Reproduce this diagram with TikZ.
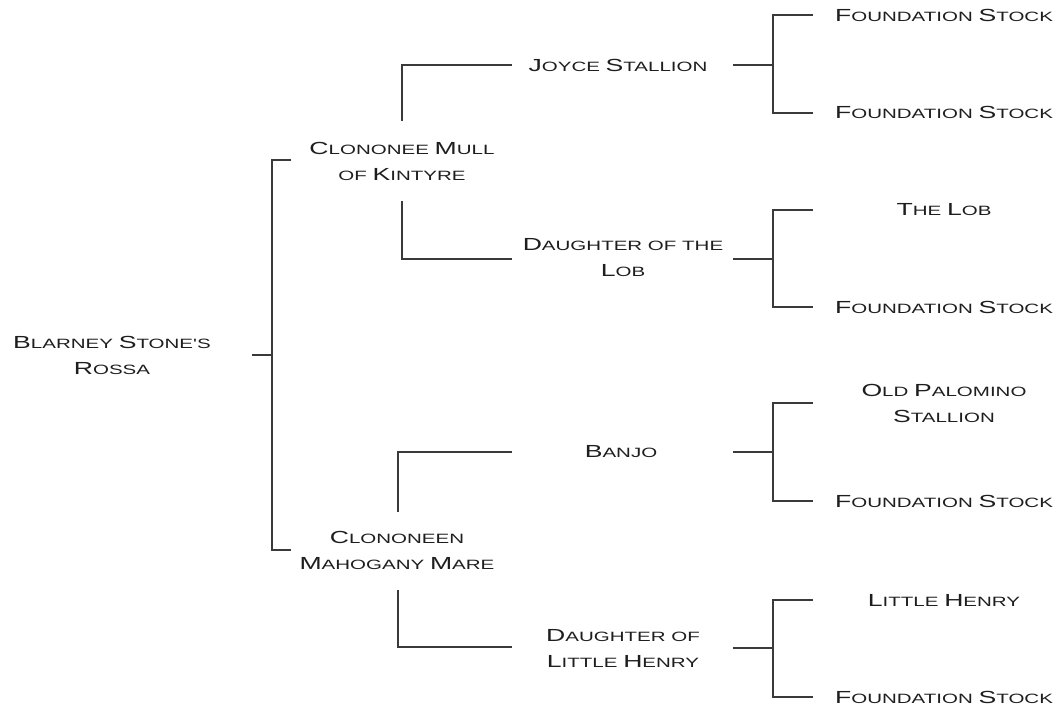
\documentclass[tikz,border=0pt]{standalone}
\usepackage{fontspec}
\newfontfamily\cpfont[FakeStretch=1.52]{Liberation Sans}
\newcommand\BC[1]{{\fontsize{17.5}{26}\selectfont #1}}
\definecolor{txt}{HTML}{1E1E1E}
\definecolor{lin}{HTML}{3A3A3A}
\tikzset{
  lab/.style={font=\cpfont\fontsize{13.5}{26}\selectfont, align=center, text=txt, inner sep=0pt},
  ln/.style={draw=lin, line width=1.2pt}
}
\begin{document}
\begin{tikzpicture}[x=1pt,y=-1pt]
\useasboundingbox (0,0) rectangle (1061,709);
% nodes
\node[lab] (rossa) at (112,355) {\BC{B}LARNEY \BC{S}TONE'S\\\BC{R}OSSA};
\node[lab] (mull) at (402,161) {\BC{C}LONONEE \BC{M}ULL\\OF \BC{K}INTYRE};
\node[lab] (mare) at (397,550) {\BC{C}LONONEEN\\\BC{M}AHOGANY \BC{M}ARE};
\node[lab] (joyce) at (618,65) {\BC{J}OYCE \BC{S}TALLION};
\node[lab] (dlob) at (623,258) {\BC{D}AUGHTER OF THE\\\BC{L}OB};
\node[lab] (banjo) at (621,452) {\BC{B}ANJO};
\node[lab] (dhenry) at (623,648) {\BC{D}AUGHTER OF\\\BC{L}ITTLE \BC{H}ENRY};
\node[lab] (f1) at (944,15) {\BC{F}OUNDATION \BC{S}TOCK};
\node[lab] (f2) at (944,112) {\BC{F}OUNDATION \BC{S}TOCK};
\node[lab] (lob) at (944,210) {\BC{T}HE \BC{L}OB};
\node[lab] (f3) at (944,307) {\BC{F}OUNDATION \BC{S}TOCK};
\node[lab] (palo) at (944,403) {\BC{O}LD \BC{P}ALOMINO\\\BC{S}TALLION};
\node[lab] (f4) at (944,501) {\BC{F}OUNDATION \BC{S}TOCK};
\node[lab] (henry) at (944,600) {\BC{L}ITTLE \BC{H}ENRY};
\node[lab] (f5) at (944,697) {\BC{F}OUNDATION \BC{S}TOCK};
% junction coordinates
\coordinate (r0) at (252,355);
\coordinate (rj) at (272,355);
\coordinate (rt) at (291,160);
\coordinate (rb) at (291,550);
\coordinate (mu) at (402,121);
\coordinate (md) at (402,201);
\coordinate (ju) at (512,65);
\coordinate (dl) at (512,259);
\coordinate (mau) at (398,512);
\coordinate (mad) at (398,590);
\coordinate (bj) at (512,452);
\coordinate (dh) at (512,647);
% right groups
\coordinate (g1s) at (733,65);  \coordinate (g1j) at (773,65);
\coordinate (g1t) at (813,15);  \coordinate (g1b) at (813,113);
\coordinate (g2s) at (733,259); \coordinate (g2j) at (773,259);
\coordinate (g2t) at (813,210); \coordinate (g2b) at (813,307);
\coordinate (g3s) at (733,452); \coordinate (g3j) at (773,452);
\coordinate (g3t) at (813,403); \coordinate (g3b) at (813,501);
\coordinate (g4s) at (733,648); \coordinate (g4j) at (773,648);
\coordinate (g4t) at (813,600); \coordinate (g4b) at (813,697);
% connectors
\draw[ln] (r0) -- (rj);
\draw[ln] (rt) -| (rj) |- (rb);
\draw[ln] (mu) |- (ju);
\draw[ln] (md) |- (dl);
\draw[ln] (mau) |- (bj);
\draw[ln] (mad) |- (dh);
\foreach \g in {g1,g2,g3,g4}{
  \draw[ln] (\g s) -- (\g j);
  \draw[ln] (\g t) -| (\g j) |- (\g b);
}
\end{tikzpicture}
\end{document}
